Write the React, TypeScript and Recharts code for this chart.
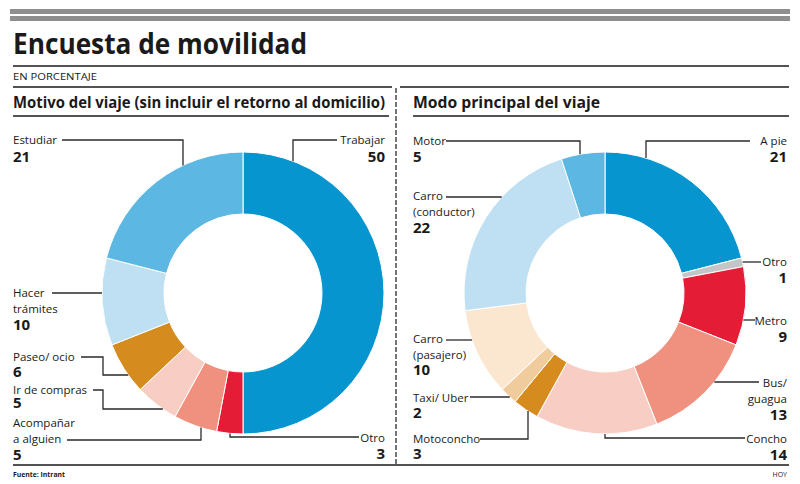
import React from 'react';
import { PieChart, Pie, Cell } from 'recharts';

// ---------- DATA ----------
const motivoCategories = ['Trabajar', 'Otro', 'Acompañar a alguien', 'Ir de compras', 'Paseo/ ocio', 'Hacer trámites', 'Estudiar'];
const motivoValues = [50, 3, 5, 5, 6, 10, 21];
const motivoLabelLines = [['Trabajar'], ['Otro'], ['Acompañar', 'a alguien'], ['Ir de compras'], ['Paseo/ ocio'], ['Hacer', 'trámites'], ['Estudiar']];

const modoCategories = ['A pie', 'Otro', 'Metro', 'Bus/ guagua', 'Concho', 'Motoconcho', 'Taxi/ Uber', 'Carro (pasajero)', 'Carro (conductor)', 'Motor'];
const modoValues = [21, 1, 9, 13, 14, 3, 2, 10, 22, 5];
const modoLabelLines = [['A pie'], ['Otro'], ['Metro'], ['Bus/', 'guagua'], ['Concho'], ['Motoconcho'], ['Taxi/ Uber'], ['Carro', '(pasajero)'], ['Carro', '(conductor)'], ['Motor']];

// ---------- STYLE ----------
const C = {
  darkBlue: '#0795d0',
  midBlue: '#5cb8e3',
  lightBlue: '#bfe0f2',
  orange: '#d68b1f',
  lightPink: '#f8cdc4',
  salmon: '#f0917f',
  red: '#e41c36',
  gray: '#c3c6c8',
  tan: '#f0cb9c',
  cream: '#fbe7cf',
};
const motivoColors = [C.darkBlue, C.red, C.salmon, C.lightPink, C.orange, C.lightBlue, C.midBlue];
const modoColors = [C.darkBlue, C.gray, C.red, C.salmon, C.lightPink, C.orange, C.tan, C.cream, C.lightBlue, C.midBlue];

const FONT = "'Open Sans', 'Noto Sans', sans-serif";
const INK = '#1a1a1a';

type LabelLayout = {
  anchor: 'start' | 'end';
  tx: number; ty: number; lh: number; vy: number;
  x0: number; ly: number; kind: 'h' | 'v' | 'hvh'; ex?: number; y2?: number;
};

const motivoLayout: LabelLayout[] = [
  { anchor: 'end', tx: 385, ty: 144, lh: 16, vy: 162, x0: 337, ly: 140, kind: 'v', ex: 293 },
  { anchor: 'end', tx: 385, ty: 442, lh: 16, vy: 459, x0: 359, ly: 437, kind: 'v', ex: 230 },
  { anchor: 'start', tx: 13, ty: 427, lh: 16, vy: 460, x0: 67, ly: 440, kind: 'v', ex: 201 },
  { anchor: 'start', tx: 13, ty: 394, lh: 16, vy: 408, x0: 93, ly: 390, kind: 'hvh', ex: 103, y2: 409 },
  { anchor: 'start', tx: 13, ty: 361, lh: 16, vy: 377, x0: 81, ly: 357, kind: 'hvh', ex: 103, y2: 375 },
  { anchor: 'start', tx: 13, ty: 297, lh: 16, vy: 330, x0: 52, ly: 293, kind: 'h' },
  { anchor: 'start', tx: 13, ty: 144, lh: 16, vy: 162, x0: 62, ly: 140, kind: 'v', ex: 183 },
];

const modoLayout: LabelLayout[] = [
  { anchor: 'end', tx: 787, ty: 145, lh: 16, vy: 162, x0: 750, ly: 141, kind: 'v', ex: 646 },
  { anchor: 'end', tx: 787, ty: 266, lh: 16, vy: 283, x0: 761, ly: 262, kind: 'h' },
  { anchor: 'end', tx: 787, ty: 325, lh: 16, vy: 342, x0: 755, ly: 320, kind: 'h' },
  { anchor: 'end', tx: 787, ty: 387, lh: 16, vy: 420, x0: 759, ly: 382, kind: 'h' },
  { anchor: 'end', tx: 787, ty: 443, lh: 16, vy: 460, x0: 745, ly: 438, kind: 'v', ex: 605 },
  { anchor: 'start', tx: 413, ty: 443, lh: 16, vy: 459, x0: 480, ly: 439, kind: 'v', ex: 528 },
  { anchor: 'start', tx: 413, ty: 402, lh: 16, vy: 418, x0: 470, ly: 397, kind: 'h' },
  { anchor: 'start', tx: 413, ty: 343, lh: 16, vy: 375, x0: 446, ly: 340, kind: 'h' },
  { anchor: 'start', tx: 413, ty: 200, lh: 16, vy: 233, x0: 446, ly: 197, kind: 'h' },
  { anchor: 'start', tx: 413, ty: 145, lh: 16, vy: 162, x0: 446, ly: 141, kind: 'v', ex: 580 },
];

const CY = 293;
const OUTER = 141;
const INNER = 79;

function makeLabel(lines: string[][], values: number[], layout: LabelLayout[]) {
  return (props: any) => {
    const { index } = props;
    const cx = Number(props.cx);
    const cy = Number(props.cy);
    const r = Number(props.outerRadius);
    const L = layout[index];
    if (!L) return null;
    const side = L.tx < cx ? -1 : 1;
    const pts: [number, number][] = [[L.x0, L.ly]];
    if (L.kind === 'h') {
      const dx = Math.sqrt(Math.max(0, r * r - (L.ly - cy) ** 2));
      pts.push([cx + side * dx, L.ly]);
    } else if (L.kind === 'v') {
      const ex = L.ex as number;
      const dy = Math.sqrt(Math.max(0, r * r - (ex - cx) ** 2));
      pts.push([ex, L.ly]);
      pts.push([ex, L.ly < cy ? cy - dy : cy + dy]);
    } else {
      const ex = L.ex as number;
      const y2 = L.y2 as number;
      const dx = Math.sqrt(Math.max(0, r * r - (y2 - cy) ** 2));
      pts.push([ex, L.ly]);
      pts.push([ex, y2]);
      pts.push([cx + side * dx, y2]);
    }
    return (
      <g>
        <polyline points={pts.map((p) => p.join(',')).join(' ')} fill="none" stroke="#2a2a2a" strokeWidth={1.3} />
        {lines[index].map((t, i) => (
          <text key={i} x={L.tx} y={L.ty + i * L.lh} textAnchor={L.anchor} fontFamily={FONT} fontSize={11.5} fill={INK}>
            {t}
          </text>
        ))}
        <text x={L.tx} y={L.vy} textAnchor={L.anchor} fontFamily={FONT} fontSize={15} fontWeight={700} fill={INK}>
          {values[index]}
        </text>
      </g>
    );
  };
}

const motivoData = motivoCategories.map((name, i) => ({ name, value: motivoValues[i] }));
const modoData = modoCategories.map((name, i) => ({ name, value: modoValues[i] }));

export default function App() {
  return (
    <div style={{ position: 'absolute', left: 0, top: 0, width: 800, height: 484, background: '#fff' }}>
      <svg width={800} height={484} style={{ position: 'absolute', left: 0, top: 0 }}>
        <rect x={10} y={9} width={780} height={5} fill="#8e8e8e" />
        <rect x={10} y={16} width={780} height={5} fill="#8e8e8e" />
        <text x={13} y={54} fontFamily={FONT} fontSize={29} fontWeight={700} fill={INK} textLength={294} lengthAdjust="spacingAndGlyphs">
          Encuesta de movilidad
        </text>
        <line x1={13} x2={789} y1={66} y2={66} stroke={INK} strokeWidth={1.5} />
        <text x={13} y={80} fontFamily={FONT} fontSize={9} fill={INK} textLength={84} lengthAdjust="spacingAndGlyphs">
          EN PORCENTAJE
        </text>
        <line x1={13} x2={392} y1={87} y2={87} stroke={INK} strokeWidth={1.5} />
        <line x1={400} x2={789} y1={87} y2={87} stroke={INK} strokeWidth={1.5} />
        <text x={13} y={108} fontFamily={FONT} fontSize={16} fontWeight={700} fill={INK} textLength={372} lengthAdjust="spacingAndGlyphs">
          Motivo del viaje (sin incluir el retorno al domicilio)
        </text>
        <text x={413} y={108} fontFamily={FONT} fontSize={16} fontWeight={700} fill={INK} textLength={187} lengthAdjust="spacingAndGlyphs">
          Modo principal del viaje
        </text>
        <line x1={13} x2={389} y1={116} y2={116} stroke={INK} strokeWidth={1.5} />
        <line x1={413} x2={789} y1={116} y2={116} stroke={INK} strokeWidth={1.5} />
        <line x1={396} x2={396} y1={88} y2={465} stroke={INK} strokeWidth={1.2} strokeDasharray="5 2" />
        <line x1={13} x2={789} y1={465} y2={465} stroke={INK} strokeWidth={1.5} />
        <text x={13} y={477} fontFamily={FONT} fontSize={7} fontWeight={700} fill={INK} textLength={52} lengthAdjust="spacingAndGlyphs">
          Fuente: Intrant
        </text>
        <text x={787} y={477} fontFamily={FONT} fontSize={7} fill={INK} textAnchor="end">
          HOY
        </text>
      </svg>
      <div style={{ position: 'absolute', left: 0, top: 0 }}>
        <PieChart width={800} height={484} margin={{ top: 0, right: 0, bottom: 0, left: 0 }}>
          <Pie
            data={motivoData}
            dataKey="value"
            nameKey="name"
            cx={243}
            cy={CY}
            outerRadius={OUTER}
            innerRadius={INNER}
            startAngle={90}
            endAngle={-270}
            stroke="#fff"
            strokeWidth={1}
            isAnimationActive={false}
            labelLine={false}
            label={makeLabel(motivoLabelLines, motivoValues, motivoLayout)}
          >
            {motivoData.map((d, i) => (
              <Cell key={d.name} fill={motivoColors[i]} />
            ))}
          </Pie>
          <Pie
            data={modoData}
            dataKey="value"
            nameKey="name"
            cx={605}
            cy={CY}
            outerRadius={OUTER}
            innerRadius={INNER}
            startAngle={90}
            endAngle={-270}
            stroke="#fff"
            strokeWidth={1}
            isAnimationActive={false}
            labelLine={false}
            label={makeLabel(modoLabelLines, modoValues, modoLayout)}
          >
            {modoData.map((d, i) => (
              <Cell key={d.name} fill={modoColors[i]} />
            ))}
          </Pie>
        </PieChart>
      </div>
    </div>
  );
}
